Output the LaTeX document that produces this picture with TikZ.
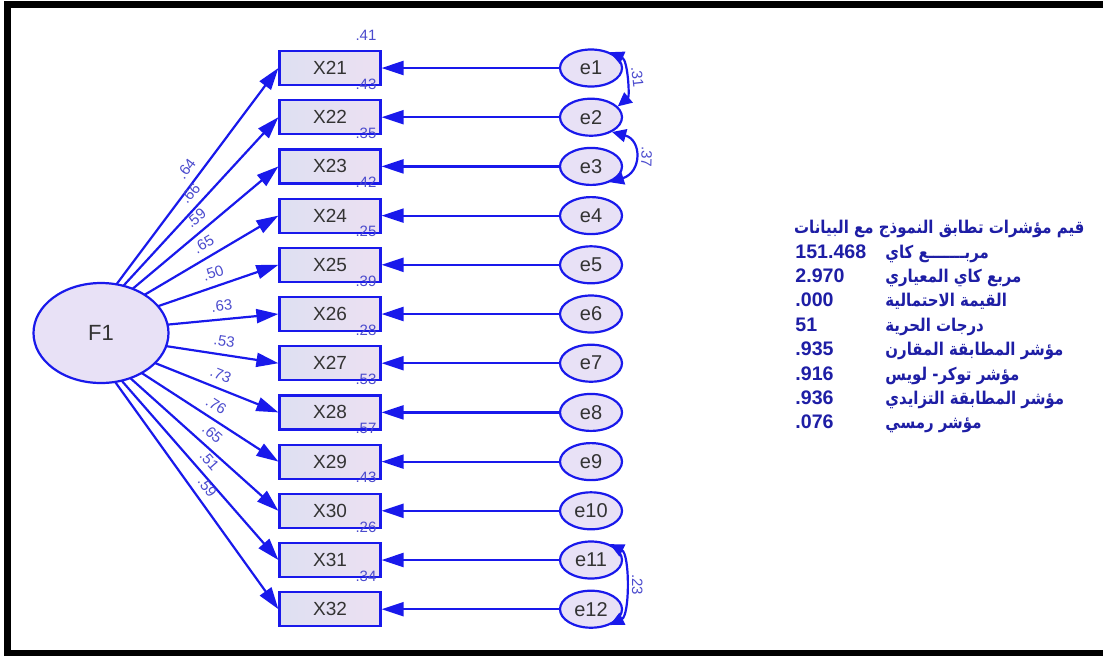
\documentclass[tikz,border=0pt]{standalone}
\usepackage{fontspec}
\setmainfont{Liberation Sans}
\newfontfamily\arabicfont[Script=Arabic,FakeStretch=0.85]{DejaVu Sans}
\TeXXeTstate=1
\usetikzlibrary{arrows.meta,shapes.geometric}

\definecolor{semblue}{RGB}{25,25,235}
\definecolor{lblblue}{RGB}{75,75,205}
\definecolor{gofblue}{RGB}{30,30,165}
\definecolor{boxleft}{RGB}{222,224,242}
\definecolor{boxright}{RGB}{236,224,242}
\definecolor{ovfill}{RGB}{232,225,246}

\begin{document}
\begin{tikzpicture}[
  x=0.5pt,y=-0.5pt,
  obs/.style={rectangle,draw=semblue,line width=1.1pt,left color=boxleft,right color=boxright,
    minimum width=50.5pt,minimum height=17pt,inner sep=0pt,text=black!80,font=\fontsize{9.5}{11}\selectfont},
  lat/.style={ellipse,draw=semblue,line width=1.1pt,fill=ovfill,minimum width=67.5pt,minimum height=50pt,
    inner sep=0pt,text=black!80,font=\fontsize{11}{13}\selectfont},
  err/.style={ellipse,draw=semblue,line width=1.1pt,fill=ovfill,minimum width=31pt,minimum height=18.5pt,
    inner sep=0pt,text=black!80,font=\fontsize{10}{12}\selectfont},
  ray/.style={ellipse,minimum width=88.5pt,minimum height=51.5pt,inner sep=0pt},
  load/.style={draw=semblue,line width=1.1pt,-{Triangle[length=11pt,width=7pt]}},
  covar/.style={draw=semblue,line width=1.1pt,{Triangle[length=7pt,width=6.5pt]}-{Triangle[length=7pt,width=6.5pt]}},
  coef/.style={text=lblblue,font=\fontsize{7.5}{8}\selectfont,inner sep=1pt},
  gof/.style={text=gofblue,font=\bfseries\fontsize{9.8}{12}\selectfont,inner sep=0pt},
  gofar/.style={text=gofblue,font=\arabicfont\bfseries\fontsize{8.8}{12}\selectfont,inner sep=0pt}
]
  \clip (0,0) rectangle (1103,655);
  \draw[line width=3.5pt] (7.5,4.5) rectangle (1110,653.5);

  % the paths of F1 fan out from a point left of its centre
  \node[ray] (F1ray) at (80,333) {};

  % indicators, errors, loadings and R^2
  \foreach \i/\ld/\rsq [count=\n] in {21/.64/.41,22/.66/.43,23/.59/.35,24/.65/.42,25/.50/.25,26/.63/.39,
                                     27/.53/.28,28/.73/.53,29/.76/.57,30/.65/.43,31/.51/.26,32/.59/.34} {
    \pgfmathsetmacro{\yy}{68+(\n-1)*49.2}
    \node[obs] (X\i) at (330,\yy) {X\i};
    \node[err] (e\n) at (591,\yy) {e\n};
    \node[coef] (r\i) at (366,\yy-33) {\rsq};
    \draw[load] (e\n) -- (X\i);
    \draw[load] (F1ray) -- node[coef,sloped,above=2.5pt,pos=0.5] (l\i) {\ld} (X\i.west);
  }

  % latent factor
  \node[lat] (F1) at (101,333) {F1};

  % correlated errors
  \begin{scope}[every node/.style={coef,sloped,allow upside down,above=2pt,midway}]
    \draw[covar] (e1.40) .. controls +(18,8) and +(12,-10) .. node (c12) {.31} (e2.22);
    \draw[covar] (e2.-35) .. controls +(30,8) and +(32,-10) .. node (c23) {.37} (e3.-40);
    \draw[covar] (e11.40) .. controls +(20,10) and +(20,-10) .. node (c1112) {.23} (e12.-40);
  \end{scope}

  % fit indices
  \node[gofar,anchor=base east] (ttl) at (1085,233) {\beginR قيم مؤشرات تطابق النموذج مع البيانات\endR};
  \foreach \val/\txt [count=\k] in {151.468/مربـــــــع كاي,2.970/مربع كاي المعياري,.000/القيمة الاحتمالية,
                                   51/درجات الحرية,.935/مؤشر المطابقة المقارن,.916/مؤشر توكر- لويس,
                                   .936/مؤشر المطابقة التزايدي,.076/مؤشر رمسي} {
    \pgfmathsetmacro{\yb}{258+(\k-1)*24.4}
    \node[gof,anchor=base west] (v\k) at (795,\yb) {\val};
    \node[gofar,anchor=base west] (t\k) at (885,\yb) {\beginR\txt\endR};
  }
\end{tikzpicture}
\end{document}
